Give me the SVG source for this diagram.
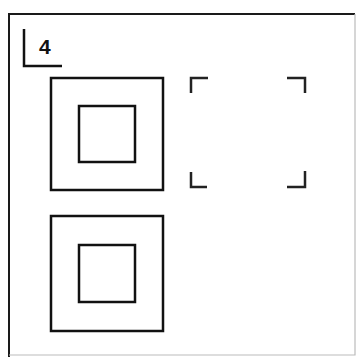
<svg xmlns="http://www.w3.org/2000/svg" width="359" height="361" viewBox="0 0 359 361">
<style>
.sq{fill:none;stroke:#111;stroke-width:2.5}
.br{fill:none;stroke:#222;stroke-width:2.5}
.lbl{font-family:"Liberation Sans",Arial,sans-serif;font-weight:bold;font-size:21px;fill:#111}
</style>
<rect width="359" height="361" fill="#fff"/>
<g id="frame">
<path d="M9,357 V14 H355" fill="none" stroke="#1a1a1a" stroke-width="2"/>
<path d="M355,14 V355 H9" fill="none" stroke="#bbb" stroke-width="1.2"/>
</g>
<g id="label">
<path d="M24,29 V66 H62" fill="none" stroke="#111" stroke-width="2.5"/>
<text class="lbl" x="39" y="54">4</text>
</g>
<g id="node-top">
<rect class="sq" x="51" y="78" width="112" height="112"/>
<rect class="sq" x="79" y="106" width="56" height="56"/>
</g>
<g id="node-bottom">
<rect class="sq" x="51" y="216" width="112" height="115"/>
<rect class="sq" x="79" y="245" width="56" height="57"/>
</g>
<g id="node-empty">
<path class="br" d="M191,93 V78 H208"/>
<path class="br" d="M287,78 H305 V93"/>
<path class="br" d="M191,172 V187 H207"/>
<path class="br" d="M287,187 H305 V171"/>
</g>
</svg>
